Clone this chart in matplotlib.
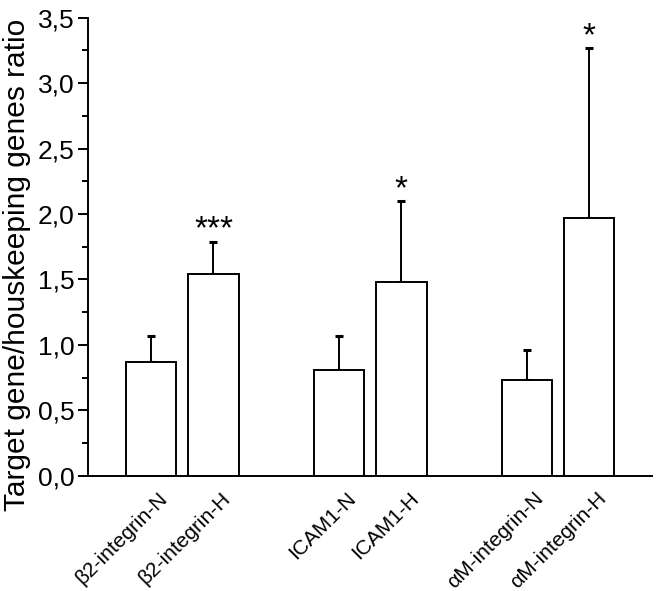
import matplotlib

matplotlib.use("Agg")
import matplotlib.pyplot as plt
import matplotlib.transforms as mtransforms
from matplotlib.ticker import MultipleLocator, FuncFormatter

plt.rcParams["font.family"] = ["Liberation Sans", "DejaVu Sans"]

# data
labels = ["β2-integrin-N", "β2-integrin-H", "ICAM1-N", "ICAM1-H",
          "αM-integrin-N", "αM-integrin-H"]
positions = [0, 1, 3, 4, 6, 7]
means = [0.87, 1.54, 0.81, 1.48, 0.73, 1.97]
errors = [0.20, 0.25, 0.26, 0.62, 0.23, 1.30]
stars = ["", "***", "", "*", "", "*"]

fig = plt.figure(figsize=(6.58, 5.91), dpi=100)
ax = fig.add_axes([0.134, 0.195, 0.857, 0.775])

ax.bar(positions, means, width=0.8, color="white", edgecolor="black", linewidth=1.4, zorder=2)
ax.errorbar(positions, means, yerr=[[0] * len(means), errors], fmt="none",
            ecolor="black", elinewidth=1.4, capsize=3.2, capthick=2.2, zorder=1)

for x, m, e, s in zip(positions, means, errors, stars):
    if s:
        ax.annotate(s, (x, m + e), xytext=(0, -3), textcoords="offset points",
                    ha="center", va="bottom", fontsize=24)

ax.set_xlim(-1.0, 8.0)
ax.set_ylim(0, 3.5)
ax.yaxis.set_major_locator(MultipleLocator(0.5))
ax.yaxis.set_minor_locator(MultipleLocator(0.25))
ax.yaxis.set_major_formatter(FuncFormatter(lambda v, _: f"{v:.1f}".replace(".", ",")))
ax.tick_params(axis="y", which="major", length=7, width=1.4, labelsize=19, pad=3)
ax.tick_params(axis="y", which="minor", length=4, width=1.4)

ax.set_xticks(positions)
ax.set_xticklabels(labels, rotation=45, ha="right", va="center",
                   rotation_mode="anchor", fontsize=15)
ax.tick_params(axis="x", length=0, pad=14)
shift = mtransforms.ScaledTranslation(14 / 100, 0, fig.dpi_scale_trans)
for lab in ax.get_xticklabels():
    lab.set_transform(lab.get_transform() + shift)

for side in ("top", "right"):
    ax.spines[side].set_visible(False)
for side in ("left", "bottom"):
    ax.spines[side].set_linewidth(1.4)

ax.set_ylabel("Target gene/houskeeping genes ratio", fontsize=21.5)
ax.yaxis.set_label_coords(-0.102, 0.46)

fig.savefig("out.png", dpi=100)
